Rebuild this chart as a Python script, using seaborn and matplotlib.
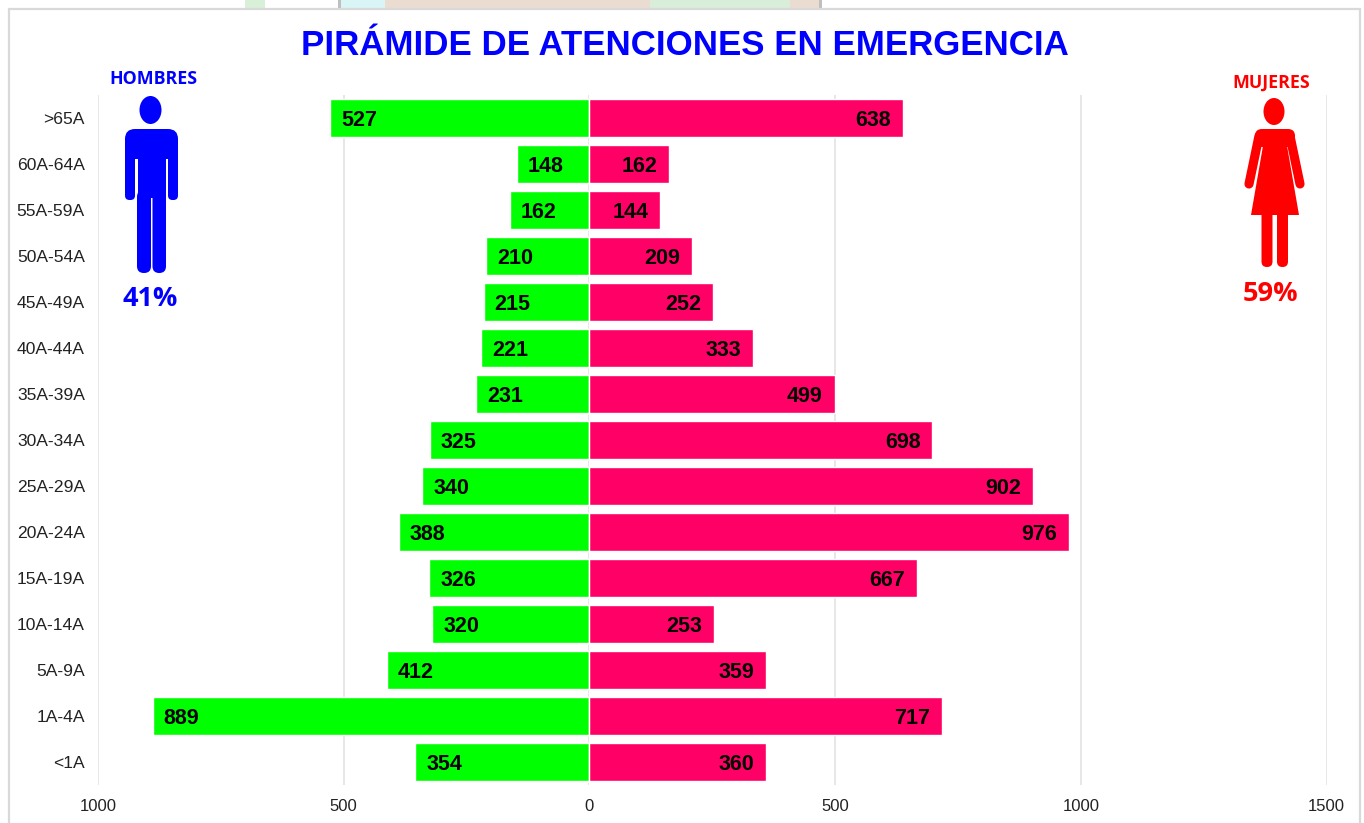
import matplotlib
matplotlib.use("Agg")
import matplotlib.pyplot as plt
from matplotlib.patches import Ellipse, FancyBboxPatch, Polygon, Rectangle
import pandas as pd
import seaborn as sns

ages = [">65A", "60A-64A", "55A-59A", "50A-54A", "45A-49A", "40A-44A", "35A-39A", "30A-34A",
        "25A-29A", "20A-24A", "15A-19A", "10A-14A", "5A-9A", "1A-4A", "<1A"]
hombres = [527, 148, 162, 210, 215, 221, 231, 325, 340, 388, 326, 320, 412, 889, 354]
mujeres = [638, 162, 144, 209, 252, 333, 499, 698, 902, 976, 667, 253, 359, 717, 360]
x_ticks = [-1000, -500, 0, 500, 1000, 1500]
x_labels = ["1000", "500", "0", "500", "1000", "1500"]

sns.set_theme(style="white")
plt.rcParams["font.family"] = ["Liberation Sans", "DejaVu Sans"]
W, H = 1364, 823
fig = plt.figure(figsize=(W / 100, H / 100), dpi=100, facecolor="white")

# pixel-space background: frame and the strip of picture cut off above it
bg = fig.add_axes([0, 0, 1, 1], zorder=0)
bg.set_xlim(0, W); bg.set_ylim(H, 0); bg.axis("off")
bg.add_patch(Rectangle((245, 0), 20, 9, fc="#d8f0d8", ec="none"))
bg.add_patch(Rectangle((338, 0), 484, 9, fc="#ebdcd2", ec="none"))
bg.add_patch(Rectangle((340, 0), 45, 9, fc="#d9f5f5", ec="none"))
bg.add_patch(Rectangle((650, 0), 140, 9, fc="#d8eed8", ec="none"))
bg.add_patch(Rectangle((338, 0), 3, 9, fc="#bfbfbf", ec="none"))
bg.add_patch(Rectangle((819, 0), 3, 9, fc="#bfbfbf", ec="none"))
bg.add_patch(Rectangle((9, 9), 1351, 830, fc="white", ec="#d9d9d9", lw=1.6))

L, R, T, B = 98, 1326.5, 95, 785
ax = fig.add_axes([L / W, 1 - B / H, (R - L) / W, (B - T) / H], zorder=1)
ax.patch.set_alpha(0)

df = pd.DataFrame({"age": ages, "h": [-v for v in hombres], "m": mujeres})
sns.barplot(data=df, y="age", x="h", orient="h", color="#00ff00", saturation=1, width=0.83, ax=ax, zorder=3)
sns.barplot(data=df, y="age", x="m", orient="h", color="#ff0066", saturation=1, width=0.83, ax=ax, zorder=3)

ax.set_xlim(-1000, 1500)
ax.set_ylim(len(ages) - 0.5, -0.5)
ax.set_xticks(x_ticks, x_labels, fontsize=12, color="#222222")
ax.tick_params(axis="x", length=0, pad=10)
ax.tick_params(axis="y", length=0, pad=9.5, labelsize=12.6, labelcolor="#222222")
ax.set_xlabel(""); ax.set_ylabel("")
ax.grid(axis="x", color="#e0e0e0", lw=1.1, zorder=0)
ax.grid(axis="y", visible=False)
ax.set_axisbelow(True)
for s in ax.spines.values():
    s.set_visible(False)
ax.axvline(0, color="white", lw=0.8, zorder=4)

px = 2500 / (R - L)
for i, (h, m) in enumerate(zip(hombres, mujeres)):
    ax.text(-h + 11 * px, i + 0.05, str(h), ha="left", va="center", fontsize=15.5, fontweight="bold", color="black", zorder=5)
    ax.text(m - 12 * px, i + 0.05, str(m), ha="right", va="center", fontsize=15.5, fontweight="bold", color="black", zorder=5)

# overlay in pixels above the bars
ov = fig.add_axes([0, 0, 1, 1], zorder=2)
ov.set_xlim(0, W); ov.set_ylim(H, 0); ov.axis("off"); ov.patch.set_alpha(0)

ov.text(685, 45.5, "PIRÁMIDE DE ATENCIONES EN EMERGENCIA", ha="center", va="center",
        fontsize=25.1, fontweight="bold", color="#0000ff")
LAB = ["Open Sans", "DejaVu Sans"]
ov.text(153, 79, "HOMBRES", ha="center", va="center", fontsize=12.8, fontweight="bold", color="#0000ff", family=LAB)
ov.text(1271, 83, "MUJERES", ha="center", va="center", fontsize=12.8, fontweight="bold", color="#ff0000", family=LAB)
ov.text(150, 299, "41%", ha="center", va="center", fontsize=19.5, fontweight="bold", color="#0000ff", family=LAB)
ov.text(1271, 294, "59%", ha="center", va="center", fontsize=19.5, fontweight="bold", color="#ff0000", family=LAB)


def rr(x, y, w, h, r, c):
    ov.add_patch(FancyBboxPatch((x + r, y + r), w - 2 * r, h - 2 * r,
                                boxstyle=f"round,pad={r},rounding_size={r}", fc=c, ec="none", zorder=6))


# man
blue = "#0000ff"
ov.add_patch(Ellipse((150.5, 110), 22, 28, fc=blue, ec="none", zorder=6))
rr(125, 129, 53, 30, 10, blue)
rr(125, 140, 10, 60, 4.5, blue)
rr(168, 140, 10, 60, 4.5, blue)
ov.add_patch(Rectangle((137.5, 150), 28, 48, fc=blue, ec="none", zorder=6))
rr(137, 190, 14, 83, 6.8, blue)
rr(152.5, 190, 13.5, 83, 6.7, blue)

# woman
red = "#ff0000"
ov.add_patch(Ellipse((1274, 111.5), 21, 27, fc=red, ec="none", zorder=6))
rr(1255, 129, 40, 18, 7, red)
ov.add_patch(Polygon([(1264, 140), (1286, 140), (1299, 215), (1251, 215)], fc=red, ec="none", zorder=6))
for top, bot in [((1259, 136), (1249, 184)), ((1290, 136), (1300, 184))]:
    ov.plot([top[0], bot[0]], [top[1], bot[1]], color=red, lw=6.6, solid_capstyle="round", zorder=6)
rr(1261.5, 210, 11, 57, 5.4, red)
rr(1277, 210, 11, 57, 5.4, red)

fig.savefig("out.png", dpi=100)
